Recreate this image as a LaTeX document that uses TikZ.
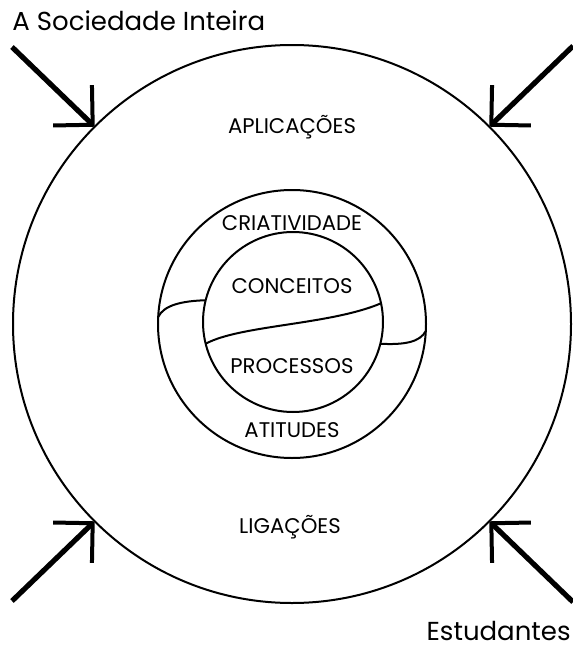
\documentclass[tikz,border=0pt]{standalone}
\usepackage{fontspec}
\setmainfont{Poppins}
\usetikzlibrary{arrows.meta}

\begin{document}
\begin{tikzpicture}[x=0.5pt, y=-0.5pt,
    ring/.style={draw, circle, line width=1pt, inner sep=0pt, outer sep=0pt},
    lbl/.style={anchor=base, inner sep=0pt, font=\fontsize{10.6}{12}\selectfont},
    big/.style={inner sep=0pt, font=\fontsize{13}{15}\selectfont},
    arrow/.style={-{Straight Barb[length=14pt, width=28pt, line width=2pt]}, line width=2.6pt},
    band/.style={line width=1pt}
]
\useasboundingbox (0,0) rectangle (573,648);
\node[ring, minimum size=279pt] (outer) at (292,324) {};
\node[ring, minimum size=134pt] (mid) at (292,324) {};
\node[ring, minimum size=90pt] (inner) at (293,322) {};

\draw[band] (mid.177) .. controls (164,305) and (182,301) .. (inner.166);
\draw[band] (inner.194) .. controls (240,325) and (330,325) .. (inner.12);
\draw[band] (inner.346) .. controls (405,345) and (420,342) .. (mid.357);

\coordinate (tlsrc) at (12,47);
\coordinate (trsrc) at (573,46);
\coordinate (blsrc) at (12,601);
\coordinate (brsrc) at (573,602);
\draw[arrow] (tlsrc) -- (outer.135);
\draw[arrow] (trsrc) -- (outer.45);
\draw[arrow] (blsrc) -- (outer.225);
\draw[arrow] (brsrc) -- (outer.315);

\node[lbl] (aplic) at (292,133) {APLICAÇÕES};
\node[lbl] (criat) at (292,230) {CRIATIVIDADE};
\node[lbl] (conc) at (292,293) {CONCEITOS};
\node[lbl] (proc) at (292,373) {PROCESSOS};
\node[lbl] (atit) at (292,437) {ATITUDES};
\node[lbl] (lig) at (290,533) {LIGAÇÕES};
\node[big, anchor=base west] (soc) at (12,31) {A Sociedade Inteira};
\node[big, anchor=base east] (estud) at (571,640) {Estudantes};
\end{tikzpicture}
\end{document}
